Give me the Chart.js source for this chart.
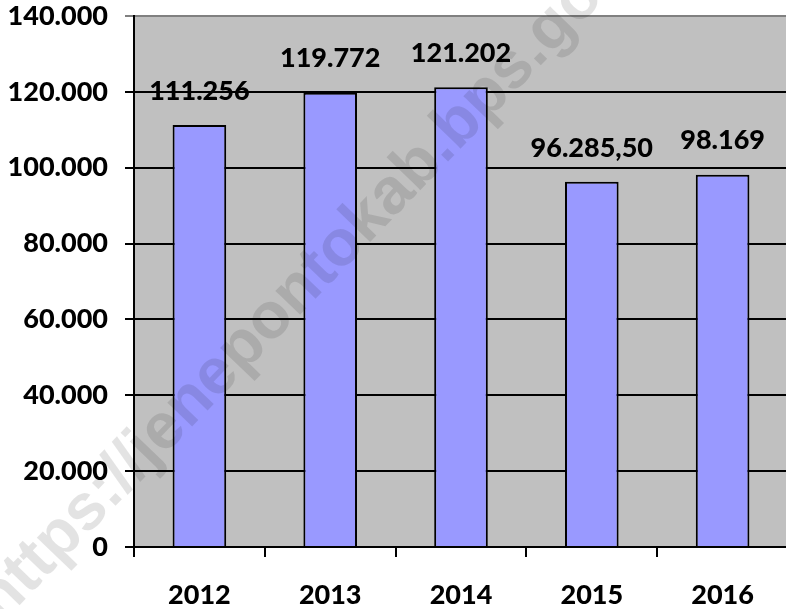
<!DOCTYPE html>
<html>
<head>
<meta charset="utf-8">
<script src="https://cdn.jsdelivr.net/npm/chart.js@4/dist/chart.umd.min.js"></script>
<style>
  html, body { margin: 0; padding: 0; background: #fff; overflow: hidden; }
  #wrap { width: 786px; height: 609px; overflow: hidden; }
</style>
</head>
<body>
<div id="wrap"><canvas id="chart" width="790" height="609"></canvas></div>
<script>
// data
const years = ['2012', '2013', '2014', '2015', '2016'];
const values = [111256, 119772, 121202, 96285.5, 98169];
const yTicks = [0, 20000, 40000, 60000, 80000, 100000, 120000, 140000];
const watermark = 'https://jenepontokab.bps.go.id';

const FONT = 'Lato, "Open Sans", sans-serif';
const WEIGHT = 900;

// 96285.5 -> "96.285,50"
function fmt(v) {
  const neg = v < 0;
  v = Math.abs(v);
  let whole = Math.floor(v);
  const frac = v - whole;
  let s = String(whole).replace(/\B(?=(\d{3})+(?!\d))/g, '.');
  if (frac > 0) s += ',' + Math.round(frac * 100).toString().padStart(2, '0');
  return (neg ? '-' : '') + s;
}

const plotBg = {
  id: 'plotBg',
  beforeDraw(chart) {
    const {ctx, chartArea: a} = chart;
    ctx.save();
    ctx.fillStyle = '#c0c0c0';
    ctx.fillRect(a.left, a.top, a.right - a.left, a.bottom - a.top);
    ctx.restore();
  }
};

const barLabels = {
  id: 'barLabels',
  afterDatasetsDraw(chart) {
    const ctx = chart.ctx;
    const meta = chart.getDatasetMeta(0);
    ctx.save();
    ctx.font = WEIGHT + ' 27px ' + FONT;
    ctx.fillStyle = '#000';
    ctx.textAlign = 'center';
    ctx.textBaseline = 'middle';
    meta.data.forEach((bar, i) => {
      ctx.fillText(fmt(values[i]), bar.x, bar.y - 34);
    });
    ctx.restore();
  }
};

const mark = {
  id: 'mark',
  afterDraw(chart) {
    const ctx = chart.ctx;
    ctx.save();
    ctx.translate(-12, 612);
    ctx.rotate(-46 * Math.PI / 180);
    ctx.font = 'bold 65px "Liberation Sans", Arial, sans-serif';
    ctx.fillStyle = 'rgba(0,0,0,0.11)';
    ctx.textAlign = 'left';
    ctx.textBaseline = 'middle';
    ctx.fillText(watermark, 0, 0);
    ctx.restore();
  }
};

const ctx = document.getElementById('chart');
const myChart = new Chart(ctx, {
  type: 'bar',
  data: {
    labels: years,
    datasets: [{
      data: values,
      backgroundColor: '#9999ff',
      borderColor: '#000',
      borderWidth: 2,
      barPercentage: 0.41,
      categoryPercentage: 1.0
    }]
  },
  options: {
    responsive: false,
    animation: false,
    layout: {
      padding: {left: 0, top: 16, right: 2, bottom: 0}
    },
    scales: {
      x: {
        grid: {
          drawOnChartArea: false,
          drawTicks: true,
          tickLength: 10,
          color: '#000',
          lineWidth: 2,
          offset: true
        },
        border: {color: '#000', width: 2},
        ticks: {
          color: '#000',
          padding: 22,
          font: {family: FONT, size: 27, weight: WEIGHT}
        },
        afterFit(scale) { scale.height = 62; }
      },
      y: {
        min: 0,
        max: 140000,
        afterBuildTicks(scale) {
          scale.ticks = yTicks.map(v => ({value: v}));
        },
        grid: {
          color: (c) => c.tick && c.tick.value === 140000 ? '#808080' : '#000',
          lineWidth: 2,
          tickLength: 9
        },
        border: {color: '#000', width: 2},
        ticks: {
          color: '#000',
          padding: 17,
          font: {family: FONT, size: 27, weight: WEIGHT},
          callback: (v) => fmt(v)
        },
        afterFit(scale) {
          scale.width = 134;
          scale.paddingTop = 0;
          scale.paddingBottom = 0;
        }
      }
    },
    plugins: {
      legend: {display: false},
      tooltip: {enabled: false}
    }
  },
  plugins: [plotBg, barLabels, mark]
});
</script>
</body>
</html>
